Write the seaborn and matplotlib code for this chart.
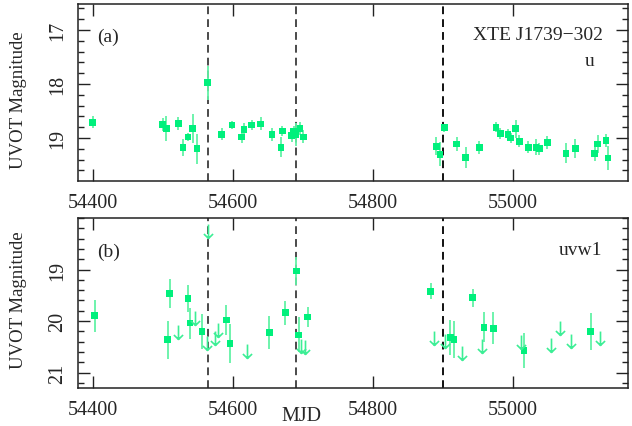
import numpy as np
import matplotlib
matplotlib.use("Agg")
import matplotlib.pyplot as plt
from matplotlib.path import Path
from matplotlib.ticker import MultipleLocator, FixedLocator
import seaborn as sns

# ---------------- data ----------------
# u band detections (panel a)
mjd_u = [54400, 54500, 54505, 54522, 54529, 54536, 54543, 54549, 54564, 54584,
         54599, 54613, 54616, 54627, 54640, 54656, 54669, 54671, 54684, 54687,
         54690, 54696, 54701, 54891, 54896, 54902, 54920, 54933, 54952, 54976,
         54982, 54993, 54997, 55004, 55009, 55022, 55033, 55038, 55049, 55076,
         55089, 55117, 55121, 55133, 55136]
mag_u = [18.71, 18.75, 18.82, 18.73, 19.17, 18.98, 18.83, 19.20, 17.98, 18.93,
         18.76, 18.98, 18.84, 18.76, 18.74, 18.94, 19.17, 18.87, 18.96, 18.88,
         18.93, 18.83, 18.98, 19.15, 19.30, 18.81, 19.11, 19.36, 19.18, 18.80,
         18.91, 18.93, 19.00, 18.83, 19.06, 19.17, 19.17, 19.20, 19.08, 19.28,
         19.19, 19.28, 19.11, 19.04, 19.37]
err_u = [0.11, 0.12, 0.23, 0.12, 0.16, 0.08, 0.27, 0.28, 0.31, 0.11,
         0.08, 0.11, 0.11, 0.10, 0.12, 0.12, 0.19, 0.10, 0.11, 0.10,
         0.21, 0.12, 0.12, 0.17, 0.22, 0.07, 0.13, 0.20, 0.12, 0.09,
         0.10, 0.09, 0.09, 0.17, 0.11, 0.11, 0.15, 0.11, 0.12, 0.18,
         0.18, 0.15, 0.17, 0.12, 0.23]

# uvw1 detections (panel b)
mjd_w = [54403, 54507, 54510, 54536, 54539, 54556, 54591, 54596, 54652, 54675,
         54691, 54694, 54707, 54883, 54911, 54916, 54943, 54959, 54972, 55016,
         55111]
mag_w = [19.90, 20.36, 19.47, 19.57, 20.04, 20.20, 19.98, 20.44, 20.23, 19.84,
         19.03, 20.27, 19.92, 19.42, 20.32, 20.36, 19.55, 20.12, 20.14, 20.57,
         20.20]
err_w = [0.31, 0.37, 0.28, 0.26, 0.30, 0.34, 0.30, 0.38, 0.32, 0.23,
         0.28, 0.34, 0.19, 0.15, 0.34, 0.36, 0.17, 0.29, 0.31, 0.34,
         0.36]

# uvw1 upper limits (panel b)
mjd_ul = [54522, 54546, 54563, 54564, 54574, 54579, 54620, 54698, 54703, 54887,
          54903, 54928, 54956, 55012, 55055, 55068, 55083, 55125]
mag_ul = [20.21, 19.95, 20.42, 18.25, 20.33, 20.18, 20.59, 20.48, 20.51, 20.32,
          20.38, 20.62, 20.49, 20.40, 20.46, 20.14, 20.38, 20.32]

# epochs marked with dashed lines
mjd_marks = [54564, 54691, 54900]
mark_colors = ["#4a4a4a", "#4a4a4a", "#111111"]

x_ticks = [54400, 54600, 54800, 55000]
u_ticks = [17, 18, 19]
w_ticks = [19, 20, 21]

# ---------------- style ----------------
sns.set_theme(style="ticks")
SERIF = ["Liberation Serif", "DejaVu Serif"]
plt.rcParams["font.family"] = SERIF
plt.rcParams["font.serif"] = SERIF
plt.rcParams["mathtext.fontset"] = "stix"

pt_color = "#00F07C"
err_color = "#62F2A6"
arrow_color = "#3CEE95"

arrow_path = Path(
    [(0, 0.5), (0, -0.5), (-0.33, -0.18), (0, -0.5), (0.33, -0.18)],
    [Path.MOVETO, Path.LINETO, Path.MOVETO, Path.LINETO, Path.LINETO],
)

fig = plt.figure(figsize=(6.32, 4.27), dpi=100)
ax1 = fig.add_axes([0.1234, 0.5745, 0.8708, 0.4138])
ax2 = fig.add_axes([0.1234, 0.0890, 0.8708, 0.3981])


def style_axis(ax, yticks, ylim):
    ax.set_xlim(54379, 55165)
    ax.set_ylim(*ylim)
    ax.xaxis.set_major_locator(FixedLocator(x_ticks))
    ax.yaxis.set_major_locator(FixedLocator(yticks))
    ax.yaxis.set_minor_locator(MultipleLocator(0.2))
    ax.tick_params(which="both", direction="in", top=True, right=True,
                   color="#222222", width=1.0)
    ax.tick_params(which="major", length=8.5)
    ax.tick_params(which="minor", length=4.5)
    ax.tick_params(axis="x", labelsize=14.5, pad=9)
    ax.tick_params(axis="y", labelsize=14.5, pad=8, labelrotation=90)
    for lab in ax.get_xticklabels() + ax.get_yticklabels():
        lab.set_family(SERIF)
    for lab in ax.get_yticklabels():
        lab.set_va("center")
    for sp in ax.spines.values():
        sp.set_linewidth(1.1)
        sp.set_color("#222222")
    ax.set_xlabel("")
    ax.set_ylabel("")


# panel (a)
for m, c in zip(mjd_marks, mark_colors):
    ax1.axvline(m, color=c, lw=1.4, dashes=(4, 2.6), zorder=1)
ax1.errorbar(mjd_u, mag_u, yerr=err_u, fmt="none", ecolor=err_color,
             elinewidth=1.3, capsize=0, zorder=2)
sns.scatterplot(x=mjd_u, y=mag_u, marker="s", s=24, color=pt_color,
                edgecolor="none", linewidth=0, ax=ax1, zorder=3)
style_axis(ax1, u_ticks, (19.79, 16.52))

# panel (b)
for m, c in zip(mjd_marks, mark_colors):
    ax2.axvline(m, color=c, lw=1.4, dashes=(4, 2.6), zorder=1)
ax2.errorbar(mjd_w, mag_w, yerr=err_w, fmt="none", ecolor=err_color,
             elinewidth=1.3, capsize=0, zorder=2)
sns.scatterplot(x=mjd_w, y=mag_w, marker="s", s=24, color=pt_color,
                edgecolor="none", linewidth=0, ax=ax2, zorder=3)
ax2.plot(mjd_ul, mag_ul, ls="none", marker=arrow_path, ms=10,
         mec=arrow_color, mfc="none", mew=1.2, zorder=3)
style_axis(ax2, w_ticks, (21.3, 18.0))

# annotations (pixel positions converted to figure fraction)
W, H = 632.0, 427.0
fig.text(97 / W, 1 - 37 / H, "(a)", fontsize=14, ha="left", va="center")
fig.text(603 / W, 1 - 36 / H, "XTE J1739\u2212302", fontsize=14, ha="right", va="center")
fig.text(595 / W, 1 - 62 / H, "u", fontsize=14, ha="right", va="center")
fig.text(97 / W, 1 - 252 / H, "(b)", fontsize=14, ha="left", va="center")
fig.text(602 / W, 1 - 251 / H, "uvw1", fontsize=14, ha="right", va="center")
fig.text(19 / W, 1 - 100 / H, "UVOT Magnitude", fontsize=13.5, rotation=90,
         ha="center", va="center")
fig.text(19 / W, 1 - 300 / H, "UVOT Magnitude", fontsize=13.5, rotation=90,
         ha="center", va="center")
fig.text(301 / W, 1 - 421 / H, "MJD", fontsize=14.5, ha="center", va="baseline")

fig.savefig("out.png", dpi=100)
